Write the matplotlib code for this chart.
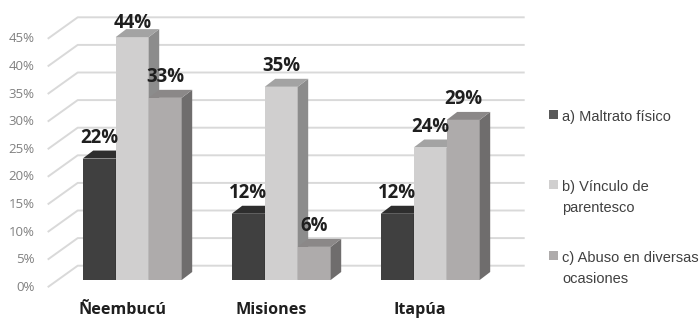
import matplotlib
matplotlib.use("Agg")
import matplotlib.pyplot as plt
from matplotlib.patches import Polygon, Rectangle
from matplotlib import font_manager

# ---- data ----
regions = ["Ñeembucú", "Misiones", "Itapúa"]
series_labels = ["a) Maltrato físico", "b) Vínculo de\nparentesco",
                 "c) Abuso en diversas\nocasiones"]
maltrato = [22, 12, 12]
vinculo = [44, 35, 24]
abuso = [33, 6, 29]
y_ticks = [0, 5, 10, 15, 20, 25, 30, 35, 40, 45]

series = [maltrato, vinculo, abuso]
front_colors = ["#404040", "#d0cfcf", "#aeabab"]
top_colors = ["#2e2e2e", "#a3a3a3", "#8b8888"]
side_colors = ["#2a2a2a", "#8c8c8c", "#6f6d6d"]
legend_colors = ["#595959", "#d0cfcf", "#aeabab"]

# ---- fonts ----
available = {f.name for f in font_manager.fontManager.ttflist}
label_font = "Open Sans" if "Open Sans" in available else "DejaVu Sans"
legend_font = next((f for f in ["Liberation Sans Narrow", "Liberation Sans"]
                    if f in available), "DejaVu Sans")
legend_size = 12.0 if legend_font == "Liberation Sans Narrow" else 10.5

# ---- layout (pixel scale of the oblique projection) ----
W, H = 700, 320
PX_CAT = 149.0     # pixels between category centres
PX_PCT = 5.52      # pixels per percentage point
X0_PX = 132.2      # pixel x of first category centre (bar front plane)
Y0_PX = 280.0      # pixel y of 0 % on the bar front plane


def dx(px):
    return px / PX_CAT


def dy(px):
    return px / PX_PCT


def to_data(px, py):
    return (px - X0_PX) / PX_CAT, (Y0_PX - py) / PX_PCT


bar_w = dx(33)
bar_depth = (dx(10.5), dy(8))          # bar receding direction
floor_front = (dx(-10), dy(-7.2))      # front edge of the floor
back_wall = (dx(20), dy(14.3))         # back wall
room_left, room_right = -0.5, 2.5

fig = plt.figure(figsize=(W / 100, H / 100), dpi=100)
ax = fig.add_axes([0, 0, 1, 1])
ax.set_xlim(-X0_PX / PX_CAT, (W - X0_PX) / PX_CAT)
ax.set_ylim((Y0_PX - H) / PX_PCT, Y0_PX / PX_PCT)
ax.axis("off")

# gridlines: slanted on the side wall, horizontal on the back wall
for t in y_ticks:
    xs = [room_left + floor_front[0], room_left + back_wall[0], room_right + back_wall[0]]
    ys = [t + floor_front[1], t + back_wall[1], t + back_wall[1]]
    ax.plot(xs, ys, color="#d9d9d9", lw=1.4, zorder=1, solid_capstyle="butt")
    ax.text(room_left + floor_front[0] - dx(13), t + floor_front[1], f"{t}%",
            ha="right", va="center", fontsize=9.5, color="#808080",
            family=label_font)

# 3-D bars
for k, vals in enumerate(series):
    centers = [g - 1.5 * bar_w + (k + 0.5) * bar_w for g in range(len(regions))]
    ax.bar(centers, vals, width=bar_w, color=front_colors[k], zorder=2 + 2 * k,
           linewidth=0)
    ddx, ddy = bar_depth
    for c, v in zip(centers, vals):
        l, r = c - bar_w / 2, c + bar_w / 2
        top = Polygon([(l, v), (r, v), (r + ddx, v + ddy), (l + ddx, v + ddy)],
                      closed=True, facecolor=top_colors[k], edgecolor="none",
                      zorder=3 + 2 * k)
        side = Polygon([(r, 0), (r + ddx, ddy), (r + ddx, v + ddy), (r, v)],
                       closed=True, facecolor=side_colors[k], edgecolor="none",
                       zorder=3 + 2 * k)
        ax.add_patch(side)
        ax.add_patch(top)
        ax.text(c, min(v + 2.9, 45.6), f"{v}%", ha="center", va="baseline",
                fontsize=13.4, fontweight="bold", color="#1f1f1f",
                family=label_font, zorder=20)

# category labels along the floor front edge
for g, name in enumerate(regions):
    ax.text(g + floor_front[0], to_data(0, 310.5)[1], name, ha="center",
            va="center", fontsize=11.6, fontweight="bold", color="#1f1f1f",
            family=label_font)

# legend, one entry per series, wrapped lines set 21 px apart
legend_baselines = [120.5, 191.0, 262.0]
for k, (lab, yb) in enumerate(zip(series_labels, legend_baselines)):
    sx, sy = to_data(549, yb - 2)
    ax.add_patch(Rectangle((sx, sy), dx(9), dy(9), facecolor=legend_colors[k],
                           edgecolor="none", zorder=5))
    for i, line in enumerate(lab.split("\n")):
        tx, ty = to_data(562, yb + 21 * i)
        ax.text(tx, ty, line, ha="left", va="baseline", fontsize=legend_size,
                color="#404040", family=legend_font)

fig.savefig("out.png", dpi=100)
